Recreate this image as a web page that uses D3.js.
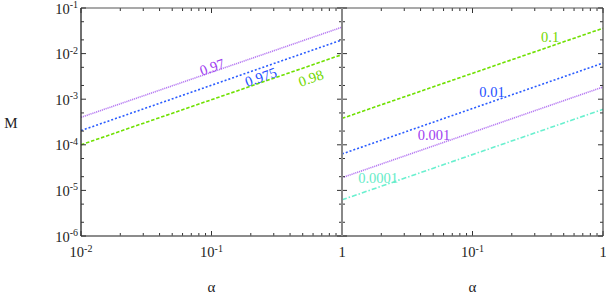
<!DOCTYPE html>
<html>
<head>
<meta charset="utf-8">
<script src="https://cdn.jsdelivr.net/npm/d3@7"></script>
<style>
  body { margin: 0; background: #fff; }
  svg text { font-family: "Liberation Serif", "Times New Roman", serif; }
</style>
</head>
<body>
<div id="chart"></div>
<script>
// endpoints of each line (alpha from 1e-2 to 1)
const alphas = [0.01, 1];

// left panel: labels 0.97 / 0.975 / 0.98
const leftNames = ["0.97", "0.975", "0.98"];
const leftValues = [
  [4.0e-4, 3.8e-2],
  [2.05e-4, 2.0e-2],
  [1.0e-4, 9.5e-3]
];
const leftLabelAlpha = [0.101, 0.239, 0.578];
const leftLabelM = [5.1e-3, 3.07e-3, 2.92e-3];

// right panel: labels 0.1 / 0.01 / 0.001 / 0.0001
const rightNames = ["0.1", "0.01", "0.001", "0.0001"];
const rightValues = [
  [3.8e-4, 3.6e-2],
  [6.3e-5, 6.2e-3],
  [1.9e-5, 1.85e-3],
  [6.2e-6, 6.0e-4]
];
const rightLabelAlpha = [0.393, 0.141, 0.0507, 0.0189];
const rightLabelM = [2.31e-2, 1.44e-3, 1.64e-4, 1.87e-5];

// tick labels
const yTicks = [1e-1, 1e-2, 1e-3, 1e-4, 1e-5, 1e-6];
const yTickLabels = ["-1", "-2", "-3", "-4", "-5", "-6"];
const xTicks = [1e-2, 1e-1, 1];
const xTickLabels = ["-2", "-1", ""];

const width = 606, height = 298;
const plotTop = 8, plotBottom = 236;
const leftX0 = 81, midX = 342, rightX1 = 603;

const styles = {
  purple: { line: "#b77cf2", text: "#a040f0", dash: "1.2,0.8" },
  blue:   { line: "#2a5cff", text: "#1f4fff", dash: "2,2" },
  green:  { line: "#6fe000", text: "#72d800", dash: "3.5,1.8" },
  cyan:   { line: "#6af0cf", text: "#66ecc8", dash: "5,2,1.5,2" }
};
const leftStyle = ["purple", "blue", "green"];
const rightStyle = ["green", "blue", "purple", "cyan"];

const svg = d3.select("#chart").append("svg")
  .attr("width", width)
  .attr("height", height);

const y = d3.scaleLog().domain([1e-6, 1e-1]).range([plotBottom, plotTop]);
const xL = d3.scaleLog().domain([1e-2, 1]).range([leftX0, midX]);
const xR = d3.scaleLog().domain([1e-2, 1]).range([midX, rightX1]);

// minor tick positions
const xMinor = [];
for (let e = -2; e < 0; e++) for (let m = 2; m <= 9; m++) xMinor.push(m * Math.pow(10, e));
const yMinor = [];
for (let e = -6; e < -1; e++) [2, 5].forEach(m => yMinor.push(m * Math.pow(10, e)));

function drawPanel(x, names, values, labelA, labelM, styleKeys, rot) {
  const g = svg.append("g");

  // lines
  const line = d3.line().x(d => x(d[0])).y(d => y(d[1]));
  names.forEach((n, i) => {
    const st = styles[styleKeys[i]];
    g.append("path")
      .datum(alphas.map((a, j) => [a, values[i][j]]))
      .attr("d", line)
      .attr("fill", "none")
      .attr("stroke", st.line)
      .attr("stroke-width", 1.6)
      .attr("stroke-dasharray", st.dash);
  });

  // labels along the lines
  names.forEach((n, i) => {
    const st = styles[styleKeys[i]];
    const px = x(labelA[i]), py = y(labelM[i]);
    g.append("text")
      .attr("transform", `translate(${px},${py}) rotate(${rot})`)
      .attr("text-anchor", "middle")
      .attr("dy", "0.35em")
      .attr("font-size", "14.5px")
      .attr("fill", st.text)
      .text(n);
  });

  // top / bottom ticks (inward)
  const [x0, x1] = x.range();
  [[plotTop, 1], [plotBottom, -1]].forEach(([yy, dir]) => {
    g.selectAll(null).data(xMinor).enter().append("line")
      .attr("x1", d => x(d)).attr("x2", d => x(d))
      .attr("y1", yy).attr("y2", yy + dir * 3)
      .attr("stroke", "#333").attr("stroke-width", 1);
    g.selectAll(null).data(xTicks).enter().append("line")
      .attr("x1", d => x(d)).attr("x2", d => x(d))
      .attr("y1", yy).attr("y2", yy + dir * 5)
      .attr("stroke", "#333").attr("stroke-width", 1);
  });

  // top and bottom frame
  g.append("line").attr("x1", x0).attr("x2", x1).attr("y1", plotTop).attr("y2", plotTop)
    .attr("stroke", "#555").attr("stroke-width", 1.2);
  g.append("line").attr("x1", x0).attr("x2", x1).attr("y1", plotBottom).attr("y2", plotBottom)
    .attr("stroke", "#666").attr("stroke-width", 1.6);
}

drawPanel(xL, leftNames, leftValues, leftLabelAlpha, leftLabelM, leftStyle, -19);
drawPanel(xR, rightNames, rightValues, rightLabelAlpha, rightLabelM, rightStyle, 0);

// vertical axes: left (ticks right), middle (ticks both sides), right (ticks left)
function yAxisTicks(xx, dirs, color, w) {
  dirs.forEach(dir => {
    svg.selectAll(null).data(yMinor).enter().append("line")
      .attr("x1", xx).attr("x2", xx + dir * 3)
      .attr("y1", d => y(d)).attr("y2", d => y(d))
      .attr("stroke", "#333").attr("stroke-width", 1);
    svg.selectAll(null).data(yTicks).enter().append("line")
      .attr("x1", xx).attr("x2", xx + dir * 5)
      .attr("y1", d => y(d)).attr("y2", d => y(d))
      .attr("stroke", "#333").attr("stroke-width", 1);
  });
  svg.append("line").attr("x1", xx).attr("x2", xx).attr("y1", plotTop).attr("y2", plotBottom)
    .attr("stroke", color).attr("stroke-width", w);
}
yAxisTicks(leftX0, [1], "#333", 1.4);
yAxisTicks(midX, [1, -1], "#888", 2);
yAxisTicks(rightX1, [-1], "#444", 1.2);

// y tick labels
yTicks.forEach((t, i) => {
  const txt = svg.append("text")
    .attr("x", 78).attr("y", y(t) + 5.5)
    .attr("text-anchor", "end")
    .attr("font-size", "14.5px")
    .attr("fill", "#222");
  txt.append("tspan").text("10");
  txt.append("tspan").attr("dy", -5.5).attr("font-size", "10px").text(yTickLabels[i]);
});

// x tick labels
function xLabels(x, skipFirst) {
  xTicks.forEach((t, i) => {
    if (skipFirst && i === 0) return;
    const txt = svg.append("text")
      .attr("x", x(t)).attr("y", 257)
      .attr("text-anchor", "middle")
      .attr("font-size", "14.5px")
      .attr("fill", "#222");
    if (xTickLabels[i] === "") {
      txt.text("1");
    } else {
      txt.append("tspan").text("10");
      txt.append("tspan").attr("dy", -5.5).attr("font-size", "10px").text(xTickLabels[i]);
    }
  });
}
xLabels(xL, false);
xLabels(xR, true);

// axis titles
svg.append("text")
  .attr("x", 11).attr("y", 128)
  .attr("text-anchor", "middle")
  .attr("font-size", "15px")
  .attr("fill", "#222")
  .text("M");

[xL, xR].forEach(x => {
  svg.append("text")
    .attr("x", x(0.1)).attr("y", 292)
    .attr("text-anchor", "middle")
    .attr("font-size", "15px")
    .attr("fill", "#222")
    .text("α");
});
</script>
</body>
</html>
